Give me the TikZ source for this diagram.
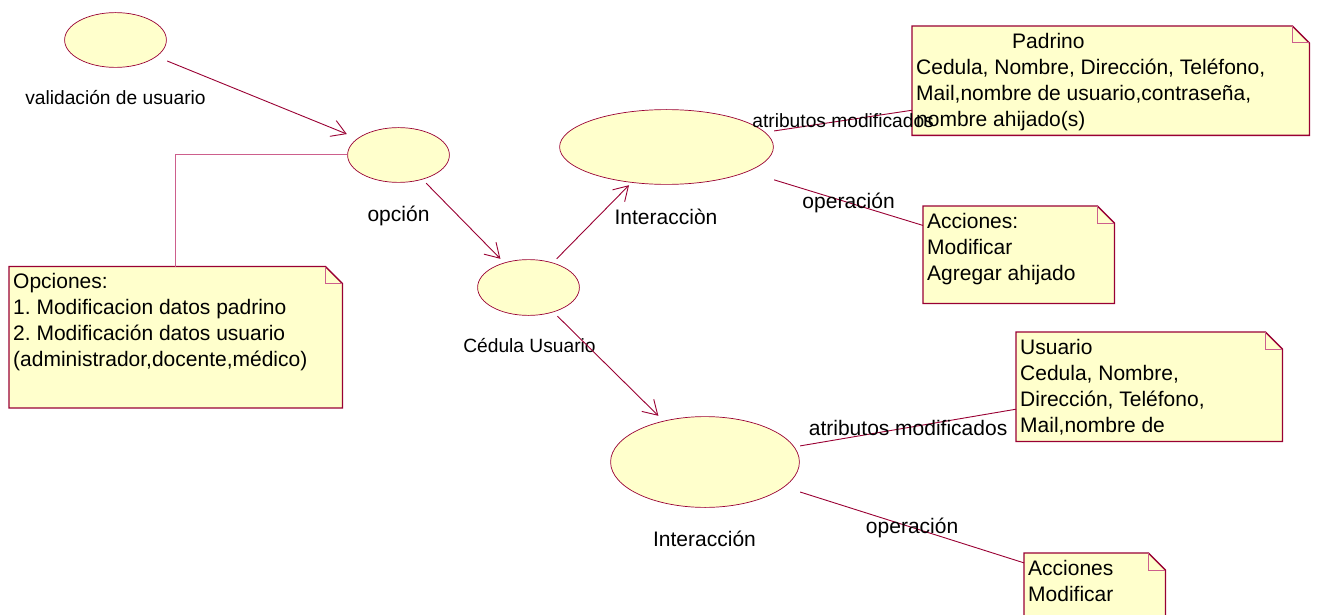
\documentclass[tikz,border=0pt]{standalone}
\usepackage{fontspec}
\setmainfont{Liberation Sans}
\usetikzlibrary{arrows.meta,backgrounds,calc}
\frenchspacing

\definecolor{roseline}{RGB}{153,0,51}
\definecolor{roselight}{RGB}{205,95,140}
\definecolor{rosefill}{RGB}{255,255,204}

\newcommand{\notetext}[3]{\parbox[t][#2][t]{#1}{\raggedright #3}}

\tikzset{
  usecase/.style={rectangle, inner sep=0pt, path picture={
      \filldraw[fill=rosefill, draw=roseline, line width=0.7pt]
        let \p1=(path picture bounding box.north east), \p2=(path picture bounding box.center)
        in (\p2) ellipse [x radius=\x1-\x2-0.6pt, y radius=\y1-\y2-0.6pt];}},
  note/.style={anchor=north west, inner xsep=4pt, inner ysep=7pt},
  notebg/.style={fill=rosefill, draw=roseline, line width=1.3pt},
  link/.style={draw=roseline, line width=0.9pt},
  elbow/.style={draw=roselight, line width=1pt},
  nav/.style={link, -{Straight Barb[length=14pt,width=17pt]}},
  small/.style={font=\fontsize{19.2}{24}\selectfont},
}

\begin{document}
\begin{tikzpicture}[x=1pt, y=-1pt, every node/.style={font=\fontsize{21}{26}\selectfont}]
\useasboundingbox (0,0) rectangle (1318,615);

% casos de uso
\node[usecase, minimum width=103pt, minimum height=56pt] (validacion) at (115.5,40) {};
\node[usecase, minimum width=103pt, minimum height=56pt] (opcion) at (398.5,155) {};
\node[usecase, minimum width=103pt, minimum height=57pt] (cedula) at (528.5,287.5) {};
\node[usecase, minimum width=215pt, minimum height=76pt] (interA) at (666.5,147) {};
\node[usecase, minimum width=190pt, minimum height=92pt] (interB) at (705,462) {};

\node[small, anchor=base] (lblValidacion) at (115.5,105) {validación de usuario};
\node[anchor=base] (lblOpcion) at (398.5,221.5) {opción};
\node[small, anchor=base] (lblCedula) at (529.5,352.3) {Cédula Usuario};
\node[anchor=base] (lblInterA) at (666,224) {Interacciòn};
\node[anchor=base] (lblInterB) at (704.5,546) {Interacción};

% notas
\node[note] (opciones) at (9,266.5) {\notetext{325pt}{127pt}{Opciones:\\1. Modificacion datos padrino\\2. Modificación datos usuario\\(administrador,docente,médico)}};
\node[note] (padrino) at (912,26) {\notetext{389pt}{95pt}{\hspace*{96pt}Padrino\\Cedula, Nombre, Dirección, Teléfono,\\Mail,nombre de usuario,contraseña,\\nombre ahijado(s)}};
\node[note] (accionesA) at (923,206) {\notetext{183pt}{83pt}{Acciones:\\Modificar\\Agregar ahijado}};
\node[note] (usuario) at (1016,332) {\notetext{258pt}{95pt}{Usuario\\Cedula, Nombre,\\Dirección, Teléfono,\\Mail,nombre de}};
\node[note] (accionesB) at (1024,553) {\notetext{133pt}{50pt}{Acciones\\Modificar}};

\begin{scope}[on background layer]
\foreach \n in {opciones,padrino,accionesA,usuario,accionesB}{
  \filldraw[notebg] (\n.north west) -- ([xshift=-17pt]\n.north east) -- ([yshift=-17pt]\n.north east) -- (\n.south east) -- (\n.south west) -- cycle;
  \draw[elbow] ([xshift=-17pt]\n.north east) |- ([yshift=-17pt]\n.north east);
}
\end{scope}

% conexiones
\draw[nav] (validacion) -- (opcion);
\draw[nav] (opcion) -- (cedula);
\draw[nav] (cedula) -- (interA);
\draw[nav] (cedula) -- (interB);
\draw[elbow] (opcion) -| (opciones);
\draw[link] (interA) -- (padrino) node[small, midway] (atrA) {atributos modificados};
\draw[link] (interA) -- (accionesA) node[midway] (opA) {operación};
\draw[link] (interB) -- (usuario) node[midway] (atrB) {atributos modificados};
\draw[link] (interB) -- (accionesB) node[midway] (opB) {operación};
\end{tikzpicture}
\end{document}
